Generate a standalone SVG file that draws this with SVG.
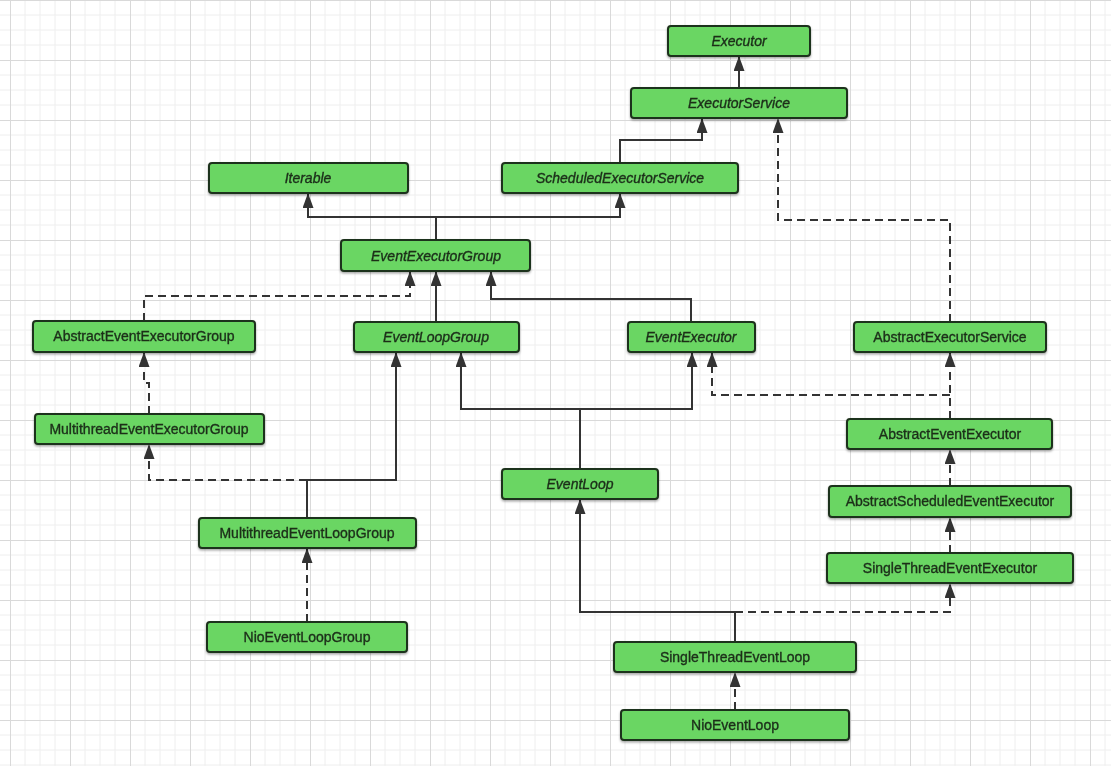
<svg xmlns="http://www.w3.org/2000/svg" width="1111" height="766" viewBox="0 0 1111 766">
<style>
.n rect{fill:#6ad663;stroke:#1f321c;stroke-width:2}
.n text{font-family:"Liberation Sans",Arial,sans-serif;font-size:14px;fill:#1c2e1a;stroke:#1c2e1a;stroke-width:0.35;text-anchor:middle}
.i text{font-style:italic}
.s{fill:none;stroke:#333;stroke-width:2;marker-end:url(#a)}
.d{fill:none;stroke:#333;stroke-width:2;stroke-dasharray:8 5;marker-end:url(#a)}
</style>
<defs>
<pattern id="g" patternUnits="userSpaceOnUse" x="10" y="0" width="60" height="60">
<path d="M15,0V60M30,0V60M45,0V60M0,15H60M0,30H60M0,45H60" stroke="#eeeeee" stroke-width="1" fill="none"/>
<path d="M0.5,0V60M0,0.5H60" stroke="#d9d9d9" stroke-width="1" fill="none"/>
</pattern>
<marker id="a" markerUnits="userSpaceOnUse" markerWidth="15" markerHeight="11" refX="15" refY="5.5" orient="auto" viewBox="0 0 15 11">
<path d="M0,0L15,5.5L0,11z" fill="#333"/>
</marker>
<filter id="sh" x="-5%" y="-20%" width="110%" height="150%">
<feDropShadow dx="0" dy="1.5" stdDeviation="0.8" flood-color="#000" flood-opacity="0.35"/>
</filter>
</defs>
<rect width="1111" height="766" fill="#fff"/>
<rect width="1111" height="766" fill="url(#g)"/>
<g id="connectors">
<path class="s" d="M739,88V56"/>
<path class="s" d="M620,163V140H702V118"/>
<path class="d" d="M950,322V220H778V118"/>
<path class="s" d="M436,240V217H308V193"/>
<path class="s" d="M436,217H620V193"/>
<path class="d" d="M144,321V296H410V271"/>
<path class="s" d="M436,322V271"/>
<path class="s" d="M691,322V299H491V271"/>
<path class="d" d="M149,414V383H144V352"/>
<path class="s" d="M307,518V480H396V352"/>
<path class="d" d="M307,480H149V444"/>
<path class="s" d="M580,469V409H461V352"/>
<path class="s" d="M580,409H692V352"/>
<path class="d" d="M950,419V352"/>
<path class="d" d="M950,395H712V352"/>
<path class="d" d="M950,486V449"/>
<path class="d" d="M950,553V517"/>
<path class="s" d="M735,642V612H580V499"/>
<path class="d" d="M735,612H950V583"/>
<path class="d" d="M307,622V548"/>
<path class="d" d="M735,710V672"/>
</g>
<g id="Executor" class="n i" filter="url(#sh)"><rect x="668" y="26" width="142" height="30" rx="3"/><text x="739" y="46">Executor</text></g>
<g id="ExecutorService" class="n i" filter="url(#sh)"><rect x="631" y="88" width="216" height="30" rx="3"/><text x="739" y="108">ExecutorService</text></g>
<g id="Iterable" class="n i" filter="url(#sh)"><rect x="209" y="163" width="199" height="30" rx="3"/><text x="308" y="183">Iterable</text></g>
<g id="ScheduledExecutorService" class="n i" filter="url(#sh)"><rect x="502" y="163" width="236" height="30" rx="3"/><text x="620" y="183">ScheduledExecutorService</text></g>
<g id="EventExecutorGroup" class="n i" filter="url(#sh)"><rect x="341" y="240" width="189" height="31" rx="3"/><text x="436" y="261">EventExecutorGroup</text></g>
<g id="AbstractEventExecutorGroup" class="n" filter="url(#sh)"><rect x="33" y="321" width="222" height="31" rx="3"/><text x="144" y="341">AbstractEventExecutorGroup</text></g>
<g id="EventLoopGroup" class="n i" filter="url(#sh)"><rect x="354" y="322" width="165" height="30" rx="3"/><text x="436" y="342">EventLoopGroup</text></g>
<g id="EventExecutor" class="n i" filter="url(#sh)"><rect x="628" y="322" width="127" height="30" rx="3"/><text x="691" y="342">EventExecutor</text></g>
<g id="AbstractExecutorService" class="n" filter="url(#sh)"><rect x="854" y="322" width="192" height="30" rx="3"/><text x="950" y="342">AbstractExecutorService</text></g>
<g id="MultithreadEventExecutorGroup" class="n" filter="url(#sh)"><rect x="35" y="414" width="229" height="30" rx="3"/><text x="149" y="434">MultithreadEventExecutorGroup</text></g>
<g id="AbstractEventExecutor" class="n" filter="url(#sh)"><rect x="847" y="419" width="205" height="30" rx="3"/><text x="950" y="439">AbstractEventExecutor</text></g>
<g id="EventLoop" class="n i" filter="url(#sh)"><rect x="502" y="469" width="156" height="30" rx="3"/><text x="580" y="489">EventLoop</text></g>
<g id="AbstractScheduledEventExecutor" class="n" filter="url(#sh)"><rect x="829" y="486" width="242" height="31" rx="3"/><text x="950" y="506">AbstractScheduledEventExecutor</text></g>
<g id="MultithreadEventLoopGroup" class="n" filter="url(#sh)"><rect x="199" y="518" width="217" height="30" rx="3"/><text x="307" y="538">MultithreadEventLoopGroup</text></g>
<g id="SingleThreadEventExecutor" class="n" filter="url(#sh)"><rect x="827" y="553" width="246" height="30" rx="3"/><text x="950" y="573">SingleThreadEventExecutor</text></g>
<g id="NioEventLoopGroup" class="n" filter="url(#sh)"><rect x="207" y="622" width="200" height="30" rx="3"/><text x="307" y="642">NioEventLoopGroup</text></g>
<g id="SingleThreadEventLoop" class="n" filter="url(#sh)"><rect x="614" y="642" width="242" height="30" rx="3"/><text x="735" y="662">SingleThreadEventLoop</text></g>
<g id="NioEventLoop" class="n" filter="url(#sh)"><rect x="621" y="710" width="228" height="30" rx="3"/><text x="735" y="730">NioEventLoop</text></g>
</svg>
